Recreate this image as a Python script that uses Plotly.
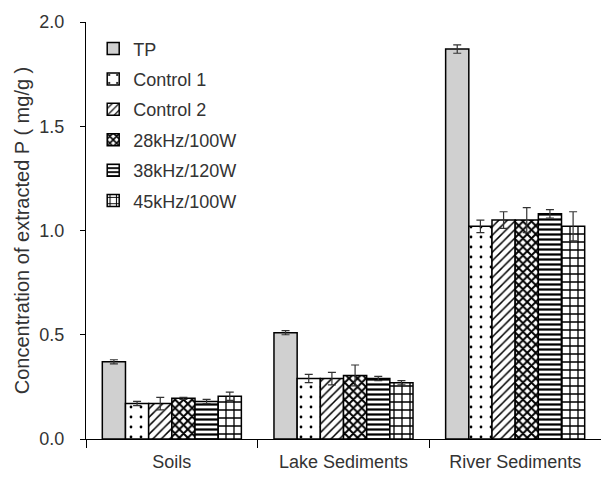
import plotly.graph_objects as go

categories = ["Soils", "Lake Sediments", "River Sediments"]
series_names = ["TP", "Control 1", "Control 2", "28kHz/100W", "38kHz/120W", "45kHz/100W"]
values = [
    [0.37, 0.51, 1.87],
    [0.17, 0.29, 1.02],
    [0.17, 0.29, 1.05],
    [0.195, 0.305, 1.05],
    [0.18, 0.29, 1.08],
    [0.205, 0.27, 1.02],
]
errors = [
    [0.01, 0.01, 0.02],
    [0.01, 0.02, 0.03],
    [0.03, 0.03, 0.04],
    [0.005, 0.05, 0.06],
    [0.01, 0.01, 0.02],
    [0.02, 0.01, 0.07],
]
y_ticks = [0.0, 0.5, 1.0, 1.5, 2.0]
y_tick_labels = ["0.0", "0.5", "1.0", "1.5", "2.0"]

patterns = ["", ".", "/", "x", "-", "+"]
fills = ["#d0d0d0", "white", "white", "white", "white", "white"]
solidity = [None, 0.06, 0.25, 0.55, 0.45, 0.3]
sizes = [None, 10, 6, 6, 5, 8]

FONT = "Liberation Sans, Arial"
TXT = "#333333"

fig = go.Figure()
for i, name in enumerate(series_names):
    pat = dict(shape=patterns[i], fgcolor="black", bgcolor=fills[i])
    if patterns[i]:
        pat["solidity"] = solidity[i]
        pat["size"] = sizes[i]
        pat["fillmode"] = "replace"
    fig.add_trace(go.Bar(
        name=name,
        x=categories,
        y=values[i],
        legendgroup=name,
        marker=dict(color=fills[i], line=dict(color="black", width=1.5), pattern=pat),
        error_y=dict(type="data", array=errors[i], color="#333333", thickness=1.2, width=4),
    ))

fig.update_layout(
    width=601, height=478,
    margin=dict(l=86, r=0, t=22, b=39),
    paper_bgcolor="white", plot_bgcolor="white",
    barmode="group", bargap=0.19, bargroupgap=0,
    font=dict(family=FONT, size=18, color=TXT),
    legend=dict(x=0.014, y=0.98, xanchor="left", yanchor="top",
                bgcolor="rgba(0,0,0,0)", font=dict(size=18, family=FONT, color=TXT),
                traceorder="grouped", tracegroupgap=4, itemwidth=30),
    showlegend=True,
)
fig.update_yaxes(
    range=[0, 2.0], tickvals=y_ticks, ticktext=y_tick_labels,
    showline=True, linecolor="black", linewidth=1.2,
    ticks="outside", ticklen=5, tickcolor="black",
    showgrid=False, zeroline=False,
    tickfont=dict(size=18, family=FONT, color=TXT),
    ticklabelstandoff=12,
    title=dict(text="Concentration of extracted P ( mg/g )", font=dict(size=20, family=FONT, color=TXT), standoff=4),
)
fig.update_xaxes(
    showline=True, linecolor="black", linewidth=1.2,
    ticks="outside", ticklen=8, tickcolor="black", tickson="boundaries",
    showgrid=False, tickfont=dict(size=18, family=FONT, color=TXT),
    ticklabelstandoff=6,
)

fig.write_html("out.html")
